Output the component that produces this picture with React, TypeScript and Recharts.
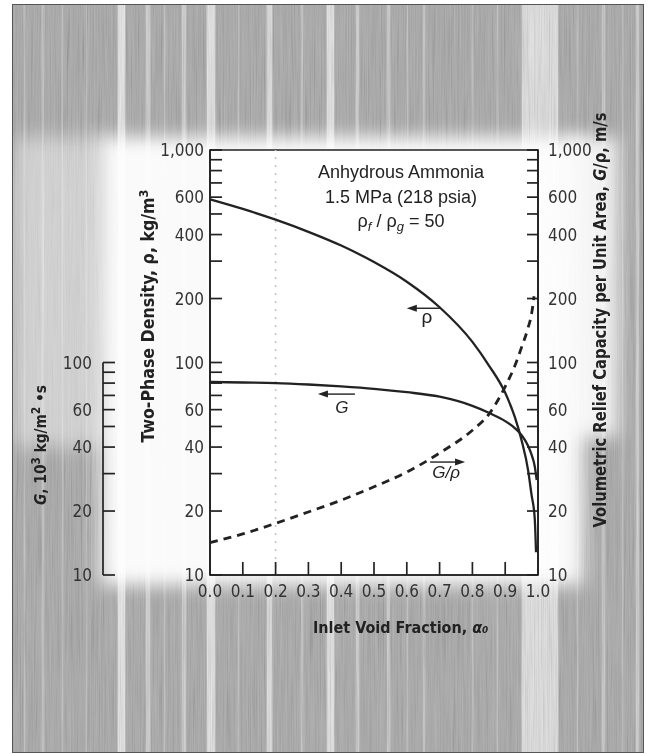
import React from 'react';
import { ComposedChart, Line, XAxis, YAxis, ReferenceArea, ReferenceLine, ReferenceDot } from 'recharts';

// ---------------- data ----------------
const rhoAlpha = [0, 0.1, 0.2, 0.3, 0.4, 0.5, 0.6, 0.7, 0.8, 0.85, 0.9, 0.93, 0.95, 0.97, 0.98, 0.99, 0.994];
const rhoValues = [586, 528, 470, 412, 355, 297, 240, 182, 125, 97, 72, 55, 43, 31, 24, 18.5, 12.8];

const gAlpha = [0, 0.1, 0.2, 0.3, 0.4, 0.5, 0.6, 0.7, 0.8, 0.85, 0.9, 0.93, 0.95, 0.97, 0.98, 0.99, 0.996];
const gValues = [81, 80.5, 80, 78.8, 77.2, 75.2, 72.5, 69, 62.5, 58, 53, 49, 45.5, 40.5, 37, 32.5, 28];

const vAlpha = [0, 0.1, 0.2, 0.3, 0.4, 0.5, 0.6, 0.7, 0.8, 0.85, 0.9, 0.93, 0.95, 0.97, 0.98, 0.988];
const vValues = [14.2, 15.6, 17.5, 19.8, 22.5, 26, 30.5, 37.5, 48, 57, 77, 97, 118, 146, 168, 205];

const xTicks = [0, 0.1, 0.2, 0.3, 0.4, 0.5, 0.6, 0.7, 0.8, 0.9, 1.0];
const xTickLabels = ['0.0', '0.1', '0.2', '0.3', '0.4', '0.5', '0.6', '0.7', '0.8', '0.9', '1.0'];

const yTicks = [10, 20, 30, 40, 50, 60, 70, 80, 90, 100, 200, 300, 400, 500, 600, 700, 800, 900, 1000];
const yLabelValues = [10, 20, 40, 60, 100, 200, 400, 600, 1000];
const yLabelTexts = ['10', '20', '40', '60', '100', '200', '400', '600', '1,000'];

const gTicks = [10, 20, 30, 40, 50, 60, 70, 80, 90, 100];
const gLabelValues = [10, 20, 40, 60, 100];
const gLabelTexts = ['10', '20', '40', '60', '100'];

// annotation anchors (alpha, value)
const rhoArrowAt = { a: 0.6, v: 180 };
const gArrowAt = { a: 0.329, v: 71 };
const vArrowAt = { a: 0.671, v: 34 };

const rhoData = rhoAlpha.map((a, i) => ({ a, rho: rhoValues[i] }));
const gData = gAlpha.map((a, i) => ({ a, g: gValues[i] }));
const vData = vAlpha.map((a, i) => ({ a, v: vValues[i] }));

// ---------------- styles ----------------
const INK = '#222';
const TXT = '#333';
const NARROW = "'Liberation Sans Narrow','Arial Narrow','DejaVu Sans Condensed',sans-serif";
const SANS = "'Liberation Sans',Arial,Helvetica,sans-serif";

const stripeDefs: number[][] = [
  [22, 3, 0.3], [40, 4, 0.35], [60, 3, 0.3], [84, 3, 0.25], [116, 9, 0.85], [144, 6, 0.5], [162, 3, 0.3],
  [180, 6, 0.5], [205, 10, 0.8], [236, 3, 0.3], [265, 7, 0.7], [299, 4, 0.35], [325, 9, 0.8],
  [354, 5, 0.5], [385, 5, 0.45], [405, 3, 0.3], [421, 4, 0.35], [470, 3, 0.3], [495, 3, 0.3],
  [520, 38, 0.75], [575, 3, 0.3], [600, 5, 0.4], [620, 3, 0.3], [634, 5, 0.5],
];

function stripeGradient(offset: number) {
  const base = 'rgb(180,180,180)';
  const stops: string[] = [`${base} 0px`];
  for (const [x, w, k] of stripeDefs) {
    const c = Math.round(180 + (245 - 180) * k);
    const col = `rgb(${c},${c},${c})`;
    const x0 = x - offset;
    stops.push(`${base} ${x0}px`, `${col} ${x0 + 1.5}px`, `${col} ${x0 + w - 1.5}px`, `${base} ${x0 + w}px`);
  }
  stops.push(`${base} 100%`);
  return `linear-gradient(to right, ${stops.join(', ')})`;
}

// ---------------- ticks ----------------
const LeftTick = (p: any) => {
  const { x, y, payload } = p;
  const i = yLabelValues.indexOf(payload.value);
  return (
    <g>
      <line x1={x} x2={x + 12} y1={y} y2={y} stroke={INK} strokeWidth={1.7} />
      {i >= 0 && (
        <text x={x - 6} y={y} dy="0.36em" textAnchor="end" fontSize={17} fontFamily={NARROW} fill={TXT}>
          {yLabelTexts[i]}
        </text>
      )}
    </g>
  );
};

const RightTick = (p: any) => {
  const { x, y, payload } = p;
  const i = yLabelValues.indexOf(payload.value);
  return (
    <g>
      <line x1={x} x2={x - 11} y1={y} y2={y} stroke={INK} strokeWidth={1.7} />
      {i >= 0 && (
        <text x={x + 10} y={y} dy="0.36em" textAnchor="start" fontSize={17} fontFamily={NARROW} fill={TXT}>
          {yLabelTexts[i]}
        </text>
      )}
    </g>
  );
};

const BottomTick = (p: any) => {
  const { x, y, payload } = p;
  const i = xTicks.indexOf(payload.value);
  const inner = payload.value > 0 && payload.value < 1;
  return (
    <g>
      {inner && <line x1={x} x2={x} y1={y} y2={y - 13} stroke={INK} strokeWidth={1.7} />}
      <text x={x} y={y + 22} textAnchor="middle" fontSize={17} fontFamily={NARROW} fill={TXT}>
        {xTickLabels[i]}
      </text>
    </g>
  );
};

const GTick = (p: any) => {
  const { x, y, payload } = p;
  const i = gLabelValues.indexOf(payload.value);
  return (
    <g>
      <line x1={x} x2={x + 12} y1={y} y2={y} stroke={INK} strokeWidth={1.7} />
      {i >= 0 && (
        <text x={x - 11} y={y} dy="0.36em" textAnchor="end" fontSize={17} fontFamily={NARROW} fill={TXT}>
          {gLabelTexts[i]}
        </text>
      )}
    </g>
  );
};

// ---------------- annotations ----------------
const RhoArrow = (p: any) => {
  const { cx, cy } = p;
  return (
    <g>
      <line x1={cx + 6} x2={cx + 33} y1={cy} y2={cy} stroke={INK} strokeWidth={1.4} />
      <polygon points={`${cx},${cy} ${cx + 10},${cy - 3.5} ${cx + 10},${cy + 3.5}`} fill={INK} />
      <text x={cx + 20} y={cy + 15} textAnchor="middle" fontSize={19} fontFamily={SANS} fill={INK}>ρ</text>
    </g>
  );
};

const GArrow = (p: any) => {
  const { cx, cy } = p;
  return (
    <g>
      <line x1={cx + 6} x2={cx + 37} y1={cy} y2={cy} stroke={INK} strokeWidth={1.4} />
      <polygon points={`${cx},${cy} ${cx + 10},${cy - 3.5} ${cx + 10},${cy + 3.5}`} fill={INK} />
      <text x={cx + 24} y={cy + 19} textAnchor="middle" fontSize={17} fontStyle="italic" fontFamily={SANS} fill={INK}>G</text>
    </g>
  );
};

const VArrow = (p: any) => {
  const { cx, cy } = p;
  return (
    <g>
      <line x1={cx} x2={cx + 29} y1={cy} y2={cy} stroke={INK} strokeWidth={1.4} />
      <polygon points={`${cx + 35},${cy} ${cx + 25},${cy - 3.5} ${cx + 25},${cy + 3.5}`} fill={INK} />
      <text x={cx + 16} y={cy + 16} textAnchor="middle" fontSize={17} fontStyle="italic" fontFamily={SANS} fill={INK}>G/ρ</text>
    </g>
  );
};

// ---------------- app ----------------
export default function App() {
  return (
    <div style={{ position: 'absolute', left: 0, top: 0, width: 656, height: 754, background: '#fff', overflow: 'hidden' }}>
      {/* scanned-paper background */}
      <div style={{ position: 'absolute', left: 12, top: 4, width: 630, height: 747, border: '1px solid #555', background: stripeGradient(12), overflow: 'hidden' }}>
        <svg width={630} height={747} style={{ position: 'absolute', left: 0, top: 0, mixBlendMode: 'multiply', opacity: 0.45 }}>
          <filter id="grain">
            <feTurbulence type="fractalNoise" baseFrequency="0.7 0.012" numOctaves={3} seed={5} />
            <feColorMatrix type="saturate" values="0" />
          </filter>
          <rect width="100%" height="100%" filter="url(#grain)" />
        </svg>
        <div style={{ position: 'absolute', left: 88, top: 132, width: 482, height: 448, background: '#fff', filter: 'blur(9px)', opacity: 0.95 }} />
        <div style={{ position: 'absolute', left: 555, top: 132, width: 50, height: 300, background: '#fff', filter: 'blur(9px)', opacity: 0.85 }} />
        <div style={{ position: 'absolute', left: 0, top: 132, width: 95, height: 310, background: '#fff', filter: 'blur(10px)', opacity: 0.45 }} />
      </div>

      {/* G axis (mass flux scale) */}
      <div style={{ position: 'absolute', left: 0, top: 0 }}>
        <ComposedChart width={120} height={754} margin={{ top: 362.5, right: 10, bottom: 179, left: 0 }}>
          <XAxis type="number" dataKey="a" domain={[0, 1]} hide />
          <YAxis
            yAxisId="g"
            scale="log"
            domain={[10, 100]}
            allowDataOverflow
            ticks={gTicks}
            interval={0}
            width={103}
            axisLine={{ stroke: INK, strokeWidth: 1.7 }}
            tickLine={false}
            tickSize={0}
            tickMargin={0}
            tick={GTick}
          />
        </ComposedChart>
      </div>

      {/* main chart */}
      <div style={{ position: 'absolute', left: 0, top: 0 }}>
        <ComposedChart width={656} height={754} margin={{ top: 150, right: 0, bottom: 0, left: 0 }}>
          <XAxis
            type="number"
            dataKey="a"
            domain={[0, 1]}
            ticks={xTicks}
            interval={0}
            height={179}
            axisLine={{ stroke: INK, strokeWidth: 1.7 }}
            tickLine={false}
            tickSize={0}
            tickMargin={0}
            tick={BottomTick}
          />
          <YAxis
            yAxisId="left"
            scale="log"
            domain={[10, 1000]}
            allowDataOverflow
            ticks={yTicks}
            interval={0}
            width={210}
            axisLine={{ stroke: INK, strokeWidth: 1.7 }}
            tickLine={false}
            tickSize={0}
            tickMargin={0}
            tick={LeftTick}
          />
          <YAxis
            yAxisId="right"
            orientation="right"
            scale="log"
            domain={[10, 1000]}
            allowDataOverflow
            ticks={yTicks}
            interval={0}
            width={118}
            axisLine={{ stroke: INK, strokeWidth: 1.7 }}
            tickLine={false}
            tickSize={0}
            tickMargin={0}
            tick={RightTick}
          />
          <ReferenceArea yAxisId="left" x1={0} x2={1} y1={10} y2={1000} fill="#fff" fillOpacity={1} stroke={INK} strokeWidth={1.7} />
          <ReferenceLine yAxisId="left" x={0.2} stroke="#c4c4c4" strokeWidth={1.5} strokeDasharray="2 6" />
          <Line yAxisId="left" data={rhoData} dataKey="rho" type="monotone" stroke={INK} strokeWidth={2.3} dot={false} isAnimationActive={false} />
          <Line yAxisId="left" data={gData} dataKey="g" type="monotone" stroke={INK} strokeWidth={2.3} dot={false} isAnimationActive={false} />
          <Line yAxisId="right" data={vData} dataKey="v" type="monotone" stroke={INK} strokeWidth={2.8} strokeDasharray="8 6" dot={false} isAnimationActive={false} />
          <ReferenceDot yAxisId="left" x={rhoArrowAt.a} y={rhoArrowAt.v} shape={RhoArrow} />
          <ReferenceDot yAxisId="left" x={gArrowAt.a} y={gArrowAt.v} shape={GArrow} />
          <ReferenceDot yAxisId="right" x={vArrowAt.a} y={vArrowAt.v} shape={VArrow} />
        </ComposedChart>
      </div>

      {/* titles */}
      <svg width={656} height={754} style={{ position: 'absolute', left: 0, top: 0, pointerEvents: 'none' }}>
        <g fontFamily={SANS} fill={INK} fontSize={18} textAnchor="middle">
          <text x={401} y={178}>Anhydrous Ammonia</text>
          <text x={401} y={203}>1.5 MPa (218 psia)</text>
          <text x={401} y={227}>
            ρ<tspan fontSize={13} fontStyle="italic" dy={4}>f</tspan>
            <tspan dy={-4}> / ρ</tspan>
            <tspan fontSize={13} fontStyle="italic" dy={4}>g</tspan>
            <tspan dy={-4}>  = 50</tspan>
          </text>
        </g>
        <text x={313} y={633} textAnchor="start" fontFamily={NARROW} fontWeight="bold" fontSize={16} fill={INK}>
          Inlet Void Fraction, <tspan fontStyle="italic">α₀</tspan>
        </text>
        <text transform="translate(154,316) rotate(-90)" textAnchor="middle" textLength={253} lengthAdjust="spacingAndGlyphs" fontFamily={NARROW} fontWeight="bold" fontSize={18} fill={INK}>
          Two-Phase Density, ρ,  kg/m<tspan fontSize={13} dy={-6}>3</tspan>
        </text>
        <text transform="translate(606,320) rotate(-90)" textAnchor="middle" textLength={415} lengthAdjust="spacingAndGlyphs" fontFamily={NARROW} fontWeight="bold" fontSize={18} fill={INK}>
          Volumetric Relief Capacity per Unit Area, <tspan fontStyle="italic">G</tspan>/ρ,  m/s
        </text>
        <text transform="translate(46,445) rotate(-90)" textAnchor="middle" textLength={120} lengthAdjust="spacingAndGlyphs" fontFamily={NARROW} fontWeight="bold" fontSize={16} fill={INK}>
          <tspan fontStyle="italic">G</tspan>, 10<tspan fontSize={12} dy={-6}>3</tspan><tspan dy={6}> kg/m</tspan><tspan fontSize={12} dy={-6}>2</tspan><tspan dy={6}> •s</tspan>
        </text>
      </svg>
    </div>
  );
}
